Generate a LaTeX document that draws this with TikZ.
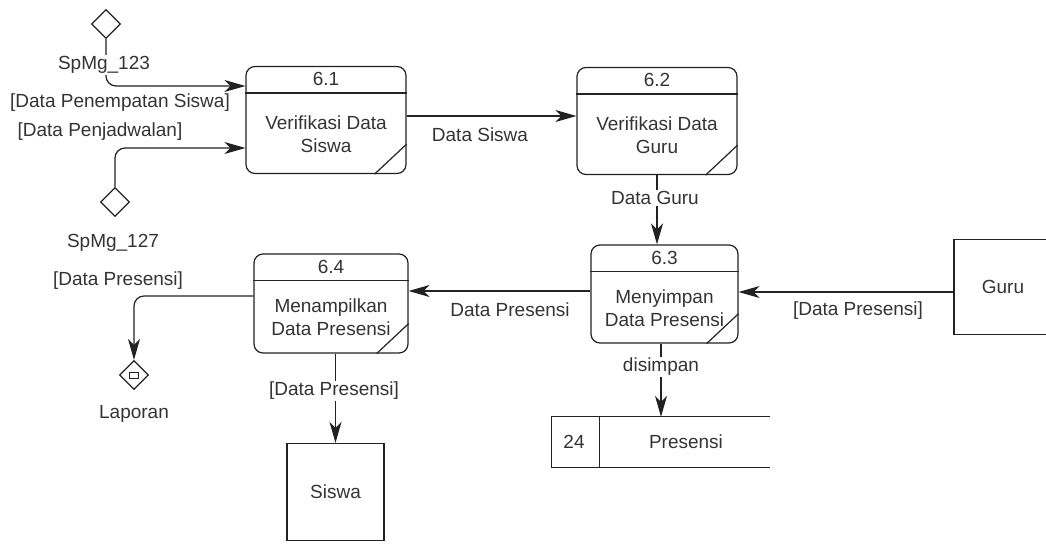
\documentclass[tikz,border=0pt]{standalone}
\usepackage{fontspec}
\setmainfont{Liberation Sans}
\usetikzlibrary{positioning,shapes.geometric,arrows.meta}

\definecolor{LINE_COLOR}{HTML}{222222}
\definecolor{TEXT_COLOR}{HTML}{333333}
\tikzstyle{layer} = [rectangle, line width=1.2pt, draw=LINE_COLOR]
\tikzstyle{proc}  = [layer, rounded corners=9pt, minimum width=160pt, minimum height=107pt]
\tikzstyle{ent}   = [layer, minimum width=97pt, minimum height=97pt, text=TEXT_COLOR, font=\fontsize{19}{23}\selectfont]
\tikzstyle{txt}   = [text=TEXT_COLOR, font=\fontsize{19}{23}\selectfont, inner sep=1pt, align=center]
\tikzstyle{lbl}   = [txt, fill=white]
\tikzstyle{flow}  = [line width=1.2pt, draw=LINE_COLOR, -{Stealth[length=21pt,width=12pt,inset=6pt]}]
\tikzstyle{term}  = [diamond, draw=LINE_COLOR, line width=1.2pt, minimum size=29pt, inner sep=0pt]
\tikzstyle{bar}   = [line width=1.2pt, draw=LINE_COLOR]

\begin{document}
\begin{tikzpicture}[x=1pt, y=-1pt]
      \useasboundingbox (0,0) rectangle (1046,546);

      %%%%%%%%%%%%%%%%%%%%%%%%%%%%%%%%%%%%%%%%%%%%%%%%%
      % PROCESSES
      %%%%%%%%%%%%%%%%%%%%%%%%%%%%%%%%%%%%%%%%%%%%%%%%%
      \node[proc] (P61) at (326,120) {};
      \node[proc] (P62) at (657,121) {};
      \node[proc, minimum width=147pt, minimum height=98pt] (P63) at (664.5,294) {};
      \node[proc, minimum width=154pt, minimum height=99pt] (P64) at (331,303.5) {};

      \foreach \p/\n/\t in {P61/6.1/{Verifikasi Data\\Siswa}, P62/6.2/{Verifikasi Data\\Guru},
                             P63/6.3/{Menyimpan\\Data Presensi}, P64/6.4/{Menampilkan\\Data Presensi}} {
        \draw[bar] ([yshift=-27pt]\p.north west) -- ([yshift=-27pt]\p.north east);
        \draw[bar] ([xshift=-32pt]\p.south east) -- ([yshift=30pt]\p.south east);
        \node[txt] at ([yshift=-13.5pt]\p.north) {\n};
        \node[txt] at ([yshift=-14pt]\p.center) {\t};
      }

      %%%%%%%%%%%%%%%%%%%%%%%%%%%%%%%%%%%%%%%%%%%%%%%%%
      % ENTITIES, STORE, TERMINATORS
      %%%%%%%%%%%%%%%%%%%%%%%%%%%%%%%%%%%%%%%%%%%%%%%%%
      \node[ent, minimum width=108pt, minimum height=95pt, inner xsep=0pt] (GU) at (1008,287) {\hspace*{-10pt}Guru};
      \node[ent] (SW) at (335.5,492) {Siswa};

      % store
      \node[minimum width=218pt, minimum height=50pt] (DS) at (661,442) {};
      \draw[bar] (DS.north east) -- (DS.north west) -- (DS.south west) -- (DS.south east);
      \draw[bar] ([xshift=48pt]DS.north west) -- ([xshift=48pt]DS.south west);
      \node[txt] (DSid)   at (574,442) {24};
      \node[txt] (DSname) at (686,442) {Presensi};

      % terminators
      \node[term] (T1) at (106,24) {};
      \node[term] (T2) at (115,202) {};
      \node[term] (T3) at (134,375) {};
      \node[draw=LINE_COLOR, line width=1pt, minimum width=9pt, minimum height=6pt, inner sep=0pt] (T3box) at (T3) {};

      %%%%%%%%%%%%%%%%%%%%%%%%%%%%%%%%%%%%%%%%%%%%%%%%%
      % FLOWS
      %%%%%%%%%%%%%%%%%%%%%%%%%%%%%%%%%%%%%%%%%%%%%%%%%
      \draw[flow, rounded corners=10pt] (T1.south) |- ([yshift=34pt]P61.west);
      \draw[flow, rounded corners=10pt] (T2.north) |- ([yshift=-28pt]P61.west);
      \draw[flow] ([yshift=4pt]P61.east) -- ([yshift=4pt]P61.east -| P62.west);
      \draw[flow] (P62.south) -- (P62.south |- P63.north);
      \draw[flow] ([yshift=-5pt]GU.west) -- ([yshift=-5pt]GU.west -| P63.east);
      \draw[flow] ([yshift=3pt]P63.west) -- ([yshift=3pt]P63.west -| P64.east);
      \draw[flow, rounded corners=10pt] ([yshift=7.5pt]P64.west) -| (T3.north);
      \draw[flow] (P64.south -| SW.north) -- (SW.north);
      \draw[flow] (P63.south -| DS.north) -- (DS.north);

      %%%%%%%%%%%%%%%%%%%%%%%%%%%%%%%%%%%%%%%%%%%%%%%%%
      % LABELS
      %%%%%%%%%%%%%%%%%%%%%%%%%%%%%%%%%%%%%%%%%%%%%%%%%
      \node[lbl] (L1)  at (104,65)  {SpMg\_123};
      \node[txt] (L2)  at (120,103) {[Data Penempatan Siswa]};
      \node[txt] (L3)  at (100,132) {[Data Penjadwalan]};
      \node[txt] (L4)  at (113,243) {SpMg\_127};
      \node[txt] (L5)  at (118,281) {[Data Presensi]};
      \node[txt] (L6)  at (134,414) {Laporan};
      \node[txt] (L7)  at (480,135) {Data Siswa};
      \node[lbl] (L8)  at (655,198) {Data Guru};
      \node[txt] (L9)  at (510,310) {Data Presensi};
      \node[txt] (L10) at (858,311) {[Data Presensi]};
      \node[lbl] (L11) at (661,367) {disimpan};
      \node[lbl] (L12) at (334,391) {[Data Presensi]};
\end{tikzpicture}
\end{document}
